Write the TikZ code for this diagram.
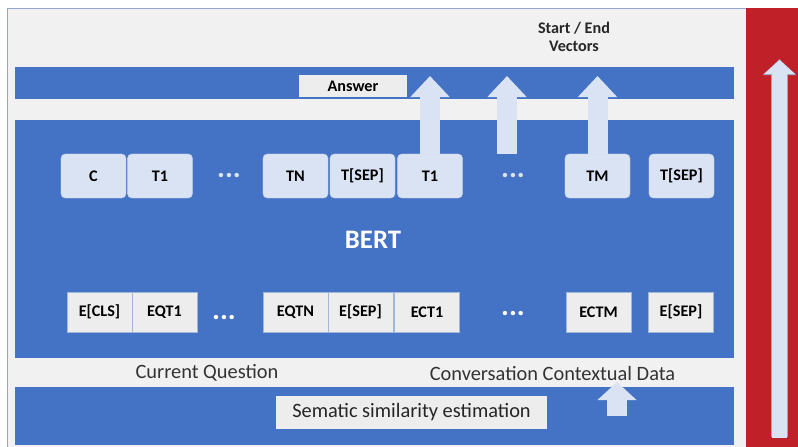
\documentclass[tikz,border=0pt]{standalone}
\usepackage{fontspec}
\setmainfont{Carlito}
\usetikzlibrary{arrows.meta}

\definecolor{bandblue}{RGB}{68,114,196}
\definecolor{tokblue}{RGB}{218,227,243}
\definecolor{boxgray}{RGB}{237,237,237}
\definecolor{bggray}{RGB}{241,241,241}
\definecolor{barred}{RGB}{192,32,40}
\definecolor{edgeblue}{RGB}{150,165,205}

\tikzset{
  band/.style={fill=bandblue},
  tokbox/.style={fill=tokblue, draw=tokblue!80!bandblue, line width=0.3pt,
    rounded corners=3pt, minimum width=1.625cm, minimum height=1.1cm,
    inner sep=0pt, font=\fontsize{11.5}{13}\selectfont\bfseries},
  embbox/.style={fill=boxgray, draw=bandblue!45!boxgray, line width=0.3pt,
    minimum width=1.625cm, minimum height=1cm,
    inner sep=0pt, font=\fontsize{11.5}{13}\selectfont\bfseries},
  dotsnode/.style={inner sep=1pt, font=\fontsize{21}{21}\selectfont\bfseries},
  plainlabel/.style={text=black!80, font=\fontsize{14.5}{16}\selectfont},
  vecarrow/.style={draw=tokblue, line width=0.5cm,
    -{Triangle[length=0.525cm,width=0.95cm]}},
}

\begin{document}
\begin{tikzpicture}[x=0.025cm, y=-0.025cm]
  \useasboundingbox (0,0) rectangle (798,447);
  \fill[white] (0,0) rectangle (798,447);

  % frame and side bar
  \fill[bggray] (7,8) rectangle (746,447);
  \draw[edgeblue, line width=0.6pt] (7,447) -- (7,8) -- (746,8);
  \fill[barred] (746,8) rectangle (798,447);

  % blue bands
  \fill[band] (15,67) rectangle (734,99);
  \fill[band] (15,120) rectangle (734,358);
  \fill[band] (15,387) rectangle (734,445);

  \node[fill=boxgray, minimum width=2.7cm, minimum height=0.55cm, inner sep=0pt,
    font=\fontsize{11.5}{13}\selectfont\bfseries] (answer) at (353,86) {Answer};
  \node[align=center, text=black!85, font=\fontsize{11.5}{12.8}\selectfont\bfseries]
    (vectors) at (574,37) {Start / End\\Vectors};

  % output tokens
  \foreach \x/\lbl/\nm in {93.5/C/tc, 160/T1/tqa, 295.5/TN/tqn, 362.5/T[SEP]/tqs,
                           430/T1/tca, 597.5/TM/tcm, 681.5/T[SEP]/tcs}
    \node[tokbox] (\nm) at (\x,176) {\lbl};
  \node[dotsnode, text=tokblue] (tqd) at (229,176) {...};
  \node[dotsnode, text=tokblue] (tcd) at (513,176) {...};

  \node[text=white, font=\fontsize{19}{19}\selectfont\bfseries] (bert) at (373,240) {BERT};

  % input embeddings
  \foreach \x/\lbl/\nm in {99.5/E[CLS]/ecls, 164.5/EQT1/eqa, 295.5/EQTN/eqn,
                           360.5/E[SEP]/eqs, 427/ECT1/eca, 598.5/ECTM/ecm, 681/E[SEP]/ecs}
    \node[embbox] (\nm) at (\x,312) {\lbl};
  \node[dotsnode, text=white] (eqd) at (224,318) {...};
  \node[dotsnode, text=white] (ecd) at (513,314) {...};

  % start / end vectors
  \coordinate (vtipa) at (430,76);
  \coordinate (vbase) at (507,154);
  \coordinate (vtipb) at (507,76);
  \coordinate (vtipc) at (597.5,76);
  \draw[vecarrow] (tca.north) -- (vtipa);
  \draw[vecarrow] (vbase) -- (vtipb);
  \draw[vecarrow] (tcm.north) -- (vtipc);

  \node[plainlabel] (curq) at (207,373) {Current Question};
  \node[plainlabel] (convd) at (552.5,373) {Conversation Contextual Data};

  \node[fill=boxgray, minimum width=6.775cm, minimum height=0.825cm, inner sep=0pt,
    text=black!85, font=\fontsize{14.5}{16}\selectfont] (semsim) at (411.5,412.5)
    {Sematic similarity estimation};

  \coordinate (cbase) at (617,416);
  \coordinate (ctip) at (617,382);
  \draw[vecarrow, -{Triangle[length=0.45cm,width=0.95cm]}] (cbase) -- (ctip);

  % flow arrow on the side bar
  \coordinate (rbase) at (779.5,437);
  \coordinate (rtip) at (779.5,60);
  \draw[draw=edgeblue, line width=0.41cm, -{Triangle[length=0.4cm,width=0.82cm]}]
    (rbase) -- ([yshift=0.6pt]rtip);
  \draw[draw=tokblue, line width=0.375cm, -{Triangle[length=0.35cm,width=0.75cm]}]
    ([yshift=-0.5pt]rbase) -- (rtip);
\end{tikzpicture}
\end{document}
